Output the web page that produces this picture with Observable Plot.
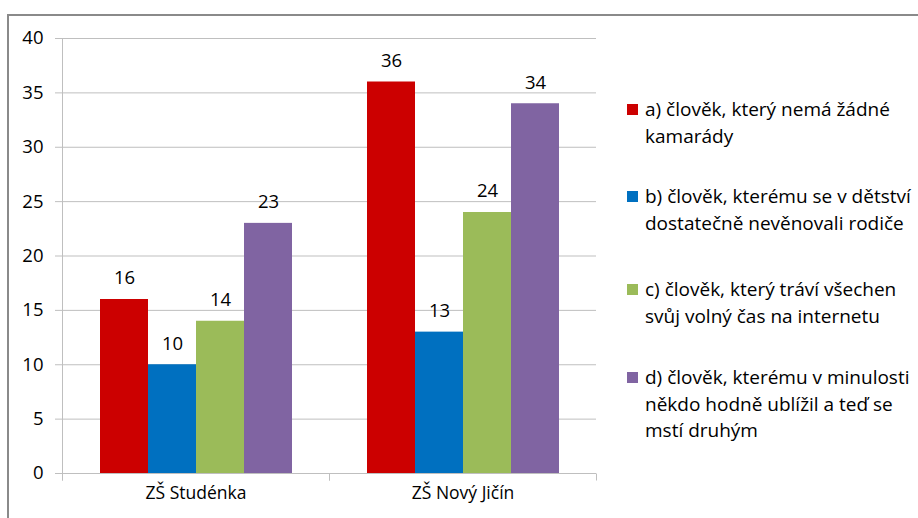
<!DOCTYPE html>
<html>
<head>
<meta charset="utf-8">
<script src="https://cdn.jsdelivr.net/npm/d3@7"></script>
<script src="https://cdn.jsdelivr.net/npm/@observablehq/plot@0.6"></script>
<style>
  body { margin: 0; background: #fff; font-family: "Open Sans", sans-serif; }
  #wrap { position: relative; width: 918px; height: 518px; overflow: hidden; background: #fff; }
  #border { position: absolute; left: 7px; top: 14px; width: 1000px; height: 600px;
            border-top: 2px solid #8a8a8a; border-left: 2px solid #8a8a8a; }
  #chart { position: absolute; left: 0; top: 0; }
  .item { position: absolute; left: 627px; font-size: 19px; line-height: 26.5px; color: #000; }
  .sw { position: absolute; left: 0; top: 8px; width: 11px; height: 11px; }
  .lbl { position: absolute; left: 18px; top: 0; white-space: pre; }
</style>
</head>
<body>
<div id="wrap">
  <div id="border"></div>
  <div id="chart"></div>
  <div id="legend"></div>
</div>
<script>
// ---- data ----
const schools = ["ZŠ Studénka", "ZŠ Nový Jičín"];
const seriesKeys = ["a", "b", "c", "d"];
const seriesNames = [
  "a) člověk, který nemá žádné\nkamarády",
  "b) člověk, kterému se v dětství\ndostatečně nevěnovali rodiče",
  "c) člověk, který tráví všechen\nsvůj volný čas na internetu",
  "d) člověk, kterému v minulosti\nněkdo hodně ublížil a teď se\nmstí druhým"
];
const seriesColors = ["#CC0000", "#0070C0", "#9BBB59", "#8064A2"];
const valuesStudenka = [16, 10, 14, 23];
const valuesNovyJicin = [36, 13, 24, 34];
const yTicks = [0, 5, 10, 15, 20, 25, 30, 35, 40];

// ---- table ----
const valuesBySchool = [valuesStudenka, valuesNovyJicin];
const data = [];
schools.forEach((s, si) => seriesKeys.forEach((k, ki) => {
  data.push({school: s, key: k, value: valuesBySchool[si][ki]});
}));

const gridColor = "#bfbfbf";
let facetCount = 0;
function frameLines(index, scales, values, dims) {
  const {marginLeft, marginRight, width} = dims;
  const y0 = Math.round(scales.y(0)) + 0.5;
  const yTop = Math.round(scales.y(40)) + 0.5;
  const x0 = Math.round(marginLeft) + 0.5;
  const x1 = Math.round(width - marginRight) + 0.5;
  const g = d3.create("svg:g").attr("stroke", gridColor).attr("fill", "none").attr("stroke-width", 1);
  if (facetCount++ === 0) {
    g.append("line").attr("x1", x0).attr("x2", x0).attr("y1", yTop).attr("y2", y0 + 7);
  }
  [x0, x1].forEach(x => g.append("line").attr("x1", x).attr("x2", x).attr("y1", y0).attr("y2", y0 + 7));
  return g.node();
}

const chart = Plot.plot({
  width: 918,
  height: 518,
  marginLeft: 62,
  marginRight: 322,
  marginTop: 38,
  marginBottom: 45,
  style: {fontFamily: "'Open Sans', sans-serif", fontSize: "17.5px", color: "#000", background: "transparent", overflow: "visible"},
  fx: {domain: schools, padding: 0, label: null, axis: "bottom", tickSize: 0, tickPadding: 13},
  x: {domain: seriesKeys, paddingInner: 0, paddingOuter: 0.75, axis: null},
  y: {domain: [0, 40], axis: null},
  color: {domain: seriesKeys, range: seriesColors},
  marks: [
    Plot.ruleY(yTicks, {stroke: gridColor, strokeWidth: 1}),
    Plot.axisY(yTicks, {anchor: "left", tickSize: 7, tickPadding: 12, stroke: gridColor, fill: "#000", label: null, fontSize: 18.5, tickFormat: d => String(d)}),
    Plot.barY(data, {fx: "school", x: "key", y: "value", fill: "key"}),
    Plot.text(data, {fx: "school", x: "key", y: "value", text: d => String(d.value), dy: -21, fill: "#000", fontSize: 18.5}),
    frameLines
  ]
});
document.getElementById("chart").appendChild(chart);

// ---- legend ----
const legendTops = [96, 183, 276, 364];
const legend = document.getElementById("legend");
seriesNames.forEach((name, i) => {
  const item = document.createElement("div");
  item.className = "item";
  item.style.top = legendTops[i] + "px";
  const sw = document.createElement("div");
  sw.className = "sw";
  sw.style.background = seriesColors[i];
  const lbl = document.createElement("div");
  lbl.className = "lbl";
  lbl.textContent = name;
  item.appendChild(sw);
  item.appendChild(lbl);
  legend.appendChild(item);
});
</script>
</body>
</html>
